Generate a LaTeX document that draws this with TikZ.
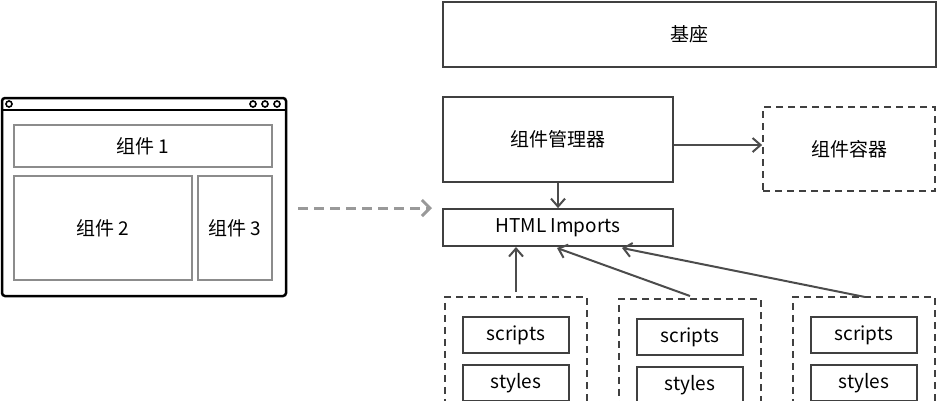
\documentclass[tikz,border=0pt]{standalone}
\usepackage{fontspec}
\setmainfont{Noto Sans CJK SC}
\usetikzlibrary{arrows.meta}
\begin{document}
\begin{tikzpicture}[x=1pt,y=-1pt,
  box/.style={draw=black!75,line width=1.8pt,inner sep=0pt,font=\fontsize{19}{22}\selectfont},
  dbox/.style={box,dashed,dash pattern=on 7pt off 5pt},
  gbox/.style={draw=black!45,line width=2pt,inner sep=0pt,font=\fontsize{19}{22}\selectfont},
  arr/.style={draw=black!70,line width=2pt,-{Straight Barb[length=8pt,width=14pt]}}]
\useasboundingbox (0,0) rectangle (937,400);
\node[box,minimum width=493pt,minimum height=65pt] (base) at (689.5,34.5) {基座};
\node[box,minimum width=230pt,minimum height=85pt] (mgr) at (558,139.5) {组件管理器};
\node[dbox,minimum width=172pt,minimum height=84pt] (cont) at (849,149) {组件容器};
\node[box,minimum width=230pt,minimum height=37pt] (imp) at (558,227.5) {HTML Imports};
\draw[arr] (mgr.south) -- (imp.north);
\draw[arr] (mgr.east |- 0,145) coordinate (m1) -- (cont.west |- m1);
% browser
\node[draw=black,line width=2.5pt,rounded corners=3pt,minimum width=284pt,minimum height=198pt,inner sep=0pt] (win) at (144,197) {};
\draw[line width=2pt] (2,110) -- (286,110);
\foreach \x in {9,253,265,277} \draw[line width=1.6pt] (\x,104) circle (3pt);
\node[gbox,minimum width=258pt,minimum height=42pt] (c1) at (143,146) {组件 1};
\node[gbox,minimum width=178pt,minimum height=104pt] (c2) at (103,228) {组件 2};
\node[gbox,minimum width=74pt,minimum height=104pt] (c3) at (235,228) {组件 3};
\coordinate (a0) at (298,208);
\coordinate (a1) at (432,208);
\draw[draw=black!40,line width=3pt,dash pattern=on 10pt off 6pt,-{Straight Barb[length=8pt,width=16pt]}] (a0) -- (a1);
% groups
\foreach \n/\x/\y in {g1/516/296,g2/690/298,g3/864/296}{
  \node[dbox,minimum width=142pt,minimum height=130pt,anchor=north] (\n) at (\x,\y) {};
  \node[box,minimum width=106pt,minimum height=36pt] (\n s) at (\x,\y+39) {scripts};
  \node[box,minimum width=106pt,minimum height=36pt] (\n t) at (\x,\y+87) {styles};
}
\coordinate (t1) at (516,292);
\coordinate (t2) at (690,296);
\coordinate (t3) at (865,297);
\coordinate (h1) at (516,247);
\coordinate (h2) at (557,248);
\coordinate (h3) at (622,248);
\draw[arr] (t1) -- (h1);
\draw[arr] (t2) -- (h2);
\draw[arr] (t3) -- (h3);
\end{tikzpicture}
\end{document}
